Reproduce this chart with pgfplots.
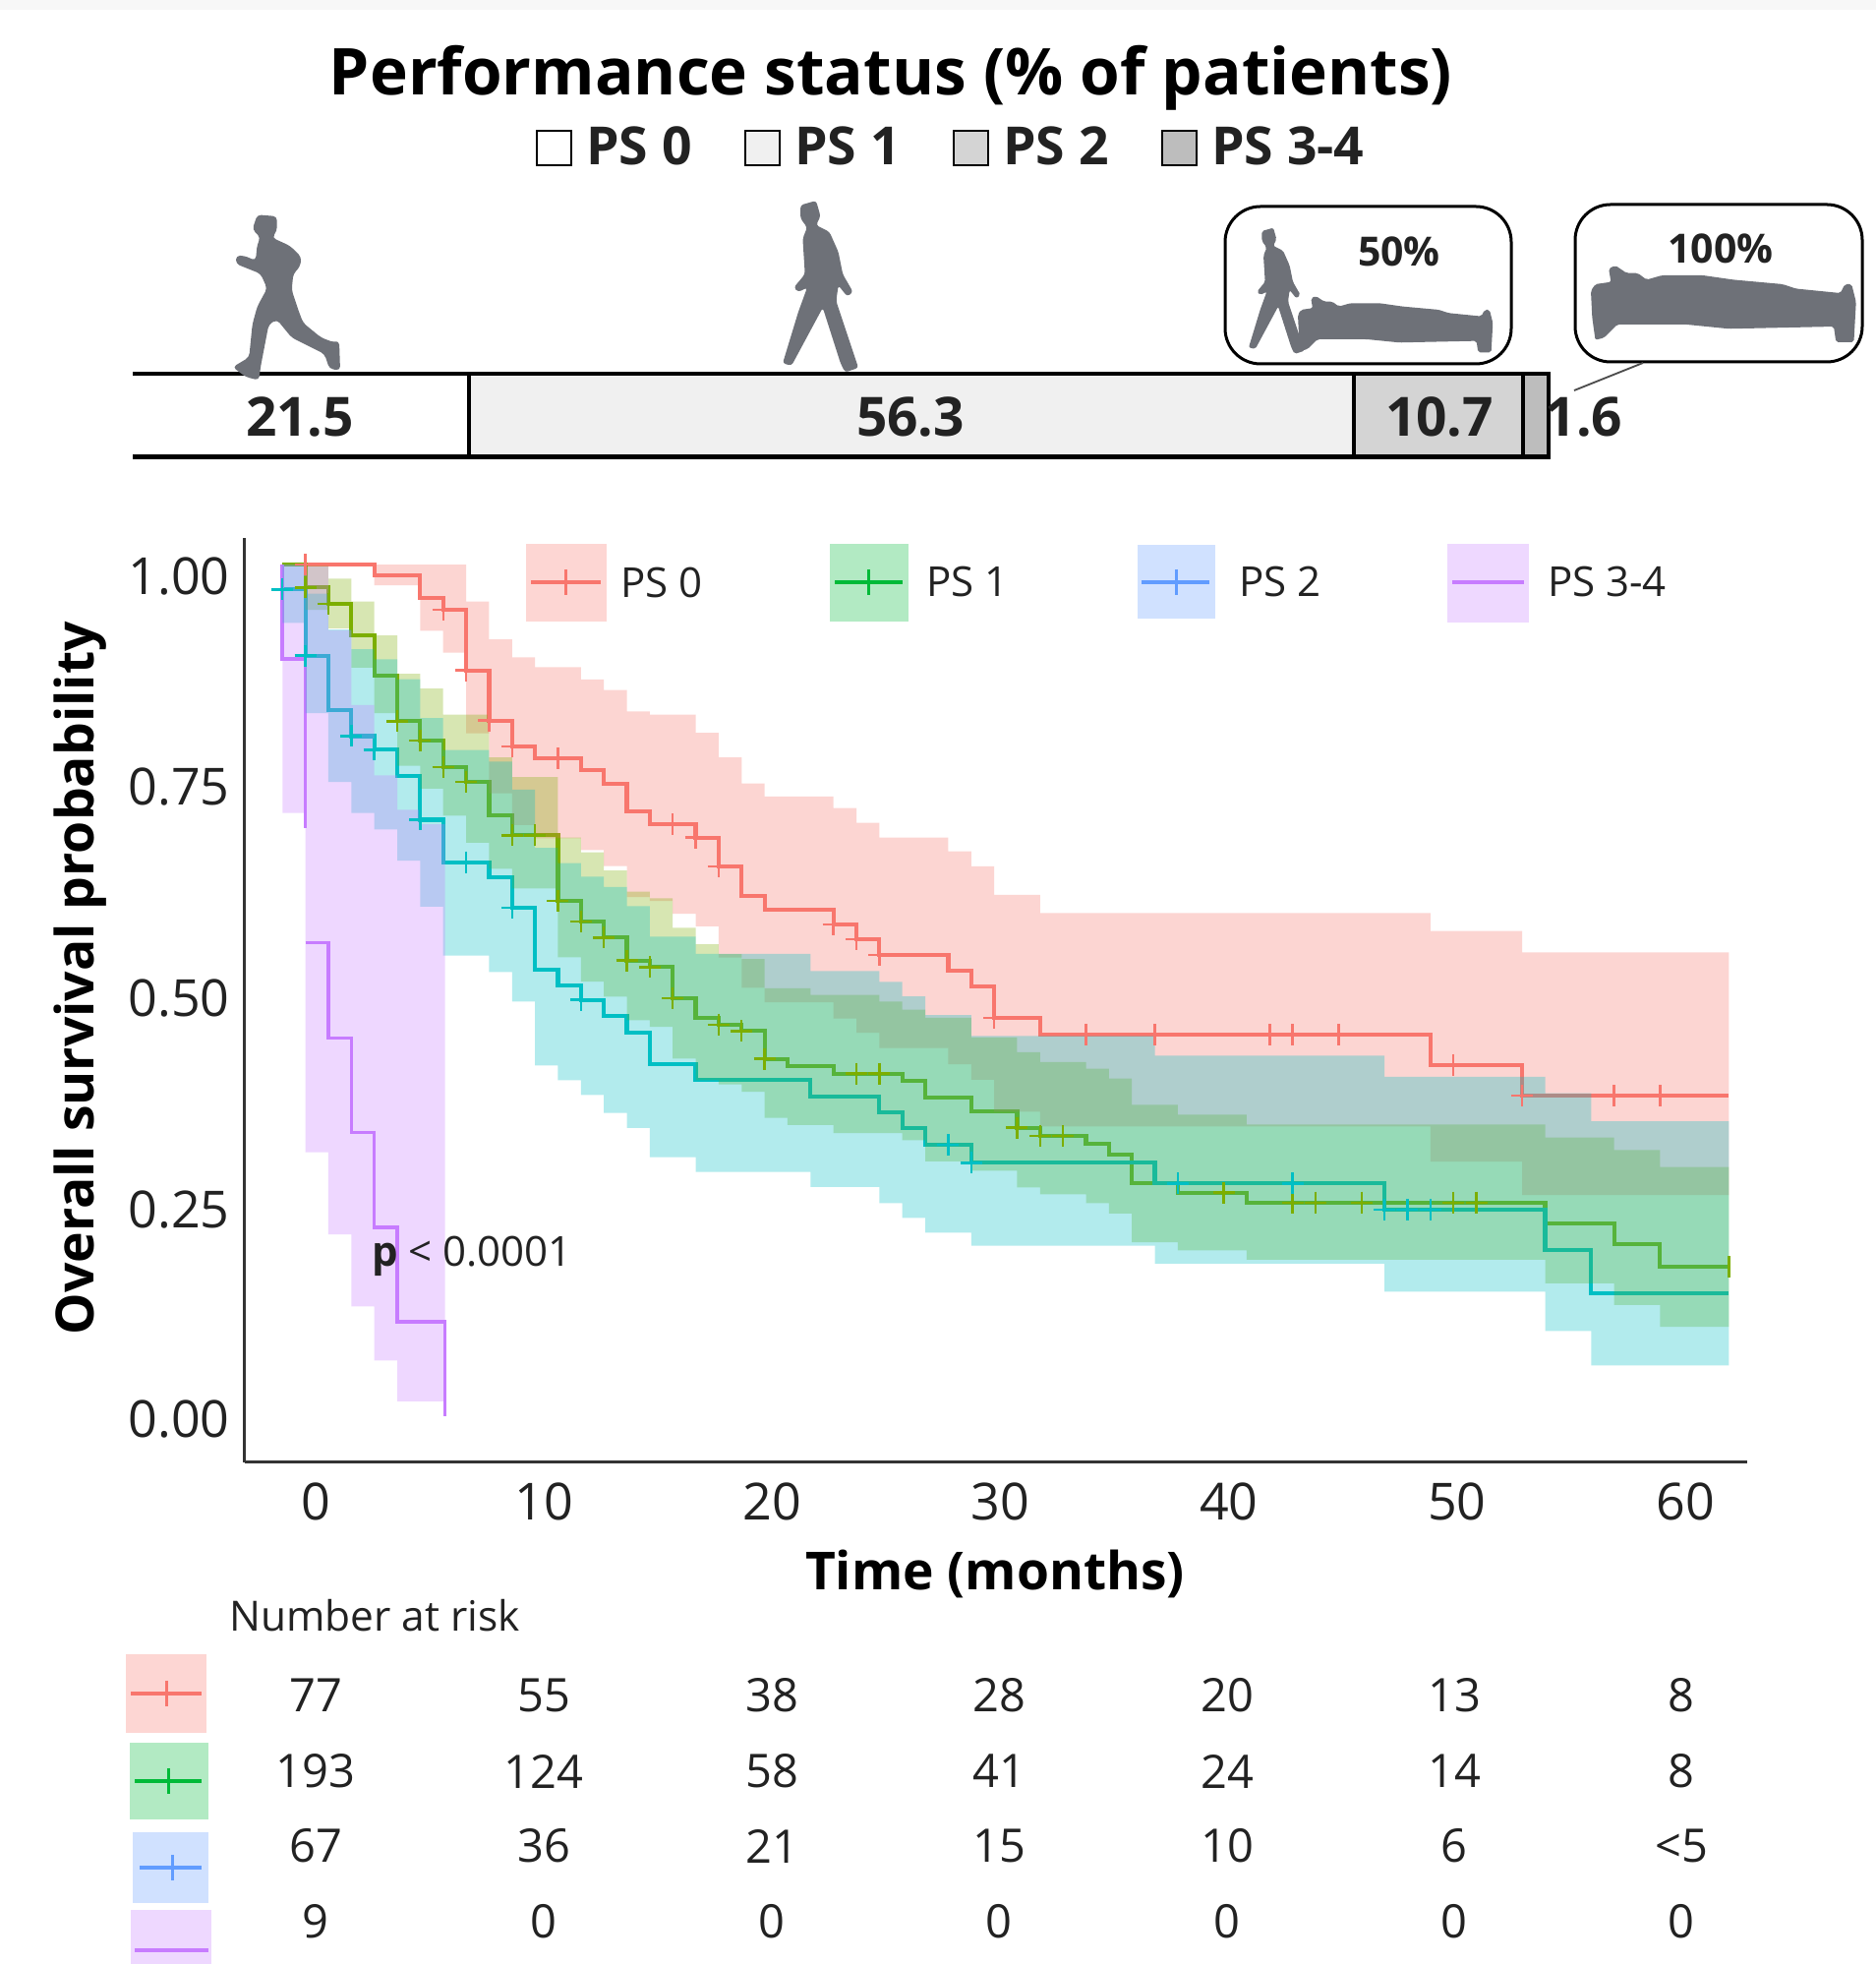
\documentclass[border=0pt]{standalone}
\usepackage{fontspec}
\setmainfont{Open Sans}
\usepackage{pgfplots}
\pgfplotsset{compat=1.18}
\definecolor{ggred}{HTML}{F8766D}
\definecolor{ggolive}{HTML}{7CAE00}
\definecolor{ggteal}{HTML}{00BFC4}
\definecolor{ggpurple}{HTML}{C77CFF}
\definecolor{keygreen}{HTML}{00BA38}
\definecolor{keyblue}{HTML}{619CFF}
\definecolor{sil}{HTML}{6E7178}
\definecolor{txt}{HTML}{222222}
\newcommand\fs[1]{\fontsize{#1}{#1}\selectfont}
\newcommand\walkerpath{(130,105)--(165,95)--(175,130)--(165,150)--(195,165)--(215,210)--(225,260)--(248,300)--(235,310)--(215,285)--(210,320)--(250,440)--(260,470)--(230,480)--(220,460)--(180,335)--(110,465)--(90,460)--(125,345)--(145,290)--(125,300)--(115,290)--(140,260)--(135,180)--(145,155)--(130,135)--cycle}
\newcommand\bedpath{(240,360)--(250,345)--(285,340)--(280,310)--(295,303)--(320,320)--(345,320)--(365,335)--(400,325)--(490,325)--(560,335)--(670,345)--(700,355)--(800,365)--(810,345)--(825,345)--(835,385)--(830,475)--(790,475)--(785,440)--(550,445)--(450,435)--(300,435)--(270,465)--(250,470)--(243,420)--cycle}
\begin{document}
\begin{tikzpicture}[x=1pt,y=1pt]
\useasboundingbox (0,0) rectangle (1908,1997);
\fill[white] (0,0) rectangle (1908,1997);
\fill[black!3] (0,1987) rectangle (1908,1997);

% ---- stacked performance-status bar ----
\begin{axis}[name=ps, at={(135pt,1533pt)}, anchor=south west, scale only axis,
  width=1441pt, height=84pt, hide axis, xbar stacked, bar width=84pt,
  xmin=0, xmax=90.1, ymin=0, ymax=1, clip=false]
\addplot[fill=white, draw=none] coordinates {(21.5,0.5)};
\addplot[fill=black!6, draw=none] coordinates {(56.3,0.5)};
\addplot[fill=black!17, draw=none] coordinates {(10.7,0.5)};
\addplot[fill=black!26, draw=none] coordinates {(1.6,0.5)};
\end{axis}

% ---- Kaplan-Meier panel ----
\begin{axis}[name=km, at={(248.5pt,510pt)}, anchor=south west, scale only axis,
  width=1528.5pt, height=940pt,
  xmin=-1.66, xmax=63.8, ymin=-0.0543, ymax=1.0312,
  axis lines=left, axis line style={-, line width=3pt, draw=black!80},
  major tick length=0pt, minor tick length=0pt,
  xtick={1.44,11.39,21.33,31.27,41.22,51.16,61.11},
  xticklabels={0,10,20,30,40,50,60},
  ytick={-0.003,0.243,0.491,0.739,0.986},
  yticklabels={0.00,0.25,0.50,0.75,1.00},
  tick label style={font=\fs{52}, text=txt},
  xticklabel style={anchor=center, yshift=-40pt},
  yticklabel style={anchor=east, xshift=-11.5pt},
  xlabel={\bfseries Time (months)},
  ylabel={\bfseries Overall survival probability},
  every axis x label/.style={at={(axis description cs:0.4995,-0.1205)}, anchor=center, font=\fs{53.3}, text=black},
  every axis y label/.style={at={(axis description cs:-0.1092,0.5235)}, anchor=center, rotate=90, font=\fs{53.5}, text=black},
]
% step lines
\addplot[const plot, ggred, line width=4.2pt] coordinates {(0,1)(4,.9873)(6,.9604)(7,.9469)(8,.8757)(9,.8168)(10,.7864)(11,.7725)(13,.7583)(14,.7421)(15,.7102)(16,.6948)(18,.6794)(19,.6455)(20,.6112)(21,.5947)(24,.5774)(25,.56)(26,.5419)(29,.5235)(30,.505)(31,.4677)(33,.4477)(50,.4126)(54,.3761)(63,.3761)};
\addplot[const plot, ggolive, line width=4.2pt] coordinates {(0,1)(1,.973)(2,.9538)(3,.9168)(4,.8699)(5,.816)(6,.7936)(7,.7621)(8,.7447)(9,.7051)(10,.682)(12,.605)(13,.5811)(14,.5619)(15,.535)(16,.5273)(17,.4907)(18,.4676)(19,.4599)(20,.4522)(21,.4195)(22,.411)(24,.4022)(27,.3933)(28,.3741)(30,.358)(32,.3387)(33,.3291)(35,.3195)(36,.3072)(37,.2733)(39,.2625)(42,.2509)(55,.226)(58,.2021)(60,.1752)(63,.1752)};
\addplot[const plot, ggteal, line width=4.2pt] coordinates {(0,1)(0,.9707)(1,.893)(2,.8294)(3,.7986)(4,.7825)(5,.7513)(6,.7004)(7,.6504)(9,.6331)(10,.5973)(11,.5242)(12,.5061)(13,.4888)(14,.4703)(15,.4503)(16,.4137)(18,.3945)(23,.3752)(26,.3571)(27,.3387)(28,.3186)(30,.2975)(38,.2733)(48,.2425)(55,.1955)(57,.1443)(63,.1443)};
\addplot[const plot, ggpurple, line width=3.6pt] coordinates {(0,1)(0,.889)(1,.69)};
\addplot[const plot, ggpurple, line width=3.6pt] coordinates {(1,.556)(2,.444)(3,.333)(4,.222)(5,.111)(7.08,0)};
% confidence ribbons
\addplot[const plot, draw=none, fill=ggred, fill opacity=.3] coordinates {(0,1)(8,.9565)(9,.9122)(10,.891)(11,.8795)(13,.8649)(14,.8525)(15,.8275)(16,.8237)(18,.8025)(19,.7736)(20,.7428)(21,.7275)(24,.714)(25,.6967)(26,.6794)(29,.6632)(30,.6455)(31,.612)(33,.5908)(50,.5697)(54,.5447)(63,.5447)
 (63,.2597)(54,.2988)(50,.3403)(33,.3574)(31,.3951)(30,.4132)(29,.4322)(26,.4501)(25,.4669)(24,.4861)(21,.503)(20,.5386)(19,.5752)(18,.59)(17,.605)(16,.6095)(15,.646)(14,.6648)(13,.6785)(11,.6941)(10,.7314)(9,.8017)(8,.8966)(7,.9223)(6,.9757)(4,1)(0,1)};
\addplot[const plot, draw=none, fill=ggolive, fill opacity=.3] coordinates {(0,1)(1,.9985)(2,.9834)(3,.9565)(4,.9168)(5,.8718)(6,.8545)(7,.8237)(9,.7736)(10,.7505)(12,.6793)(13,.662)(14,.6408)(15,.6158)(16,.6081)(17,.5735)(18,.5542)(19,.5427)(20,.5369)(21,.5023)(23,.4946)(26,.4869)(27,.4773)(28,.4677)(30,.4446)(32,.4273)(33,.4157)(35,.408)(36,.3964)(37,.3657)(39,.3541)(42,.3426)(55,.3272)(58,.3125)(60,.2925)(63,.2925)
 (63,.1049)(60,.1307)(58,.1561)(55,.1837)(42,.1946)(39,.2042)(37,.2381)(36,.2502)(35,.2605)(33,.2685)(32,.2883)(30,.2992)(28,.3241)(27,.3325)(24,.342)(22,.3504)(21,.3809)(20,.3897)(19,.3945)(18,.4199)(17,.4572)(16,.4648)(15,.4927)(14,.5101)(13,.5388)(12,.6197)(10,.6427)(9,.6733)(8,.7051)(7,.737)(6,.7638)(5,.8254)(4,.8788)(3,.925)(2,.9467)(1,1)(0,1)};
\addplot[const plot, draw=none, fill=ggteal, fill opacity=.3] coordinates {(0,1)(1,.9659)(2,.9237)(3,.9005)(4,.8888)(5,.8653)(6,.8198)(7,.7823)(9,.7687)(10,.7358)(11,.6673)(12,.6493)(13,.6336)(14,.6213)(15,.5988)(16,.563)(18,.5428)(23,.5227)(26,.5099)(27,.4928)(28,.471)(30,.4465)(38,.4234)(48,.3984)(55,.3791)(57,.3464)(63,.3464)
 (63,.0597)(57,.1001)(55,.1463)(48,.179)(38,.2001)(30,.2155)(28,.2328)(27,.2501)(26,.2693)(23,.2867)(18,.304)(16,.3386)(15,.356)(14,.3771)(13,.3945)(12,.4118)(11,.4869)(10,.5214)(9,.5407)(7,.5984)(6,.6523)(5,.6889)(4,.7082)(3,.7447)(2,.8256)(1,.9315)(0,.9315)};
\addplot[const plot, draw=none, fill=ggpurple, fill opacity=.3] coordinates {(0,1)(1,.9978)(2,.9229)(3,.835)(4,.7524)(5,.712)(6,.695)(7.08,.695)
 (7.08,.0173)(5,.0655)(4,.129)(3,.2136)(2,.3098)(1,.7082)(0,.7082)};
% censoring marks
\addplot[only marks, ggred, mark=+, mark size=11pt, mark options={line width=2.4pt}] coordinates {(1,1)(7,.9469)(8,.8757)(9,.8168)(10,.7864)(12,.7725)(17,.6948)(18,.6794)(19,.6455)(24,.5774)(25,.56)(26,.5419)(31,.4677)(35,.4477)(38,.4477)(43,.4477)(44,.4477)(46,.4477)(51,.4126)(54,.3761)(58,.3761)(60,.3761)};
\addplot[only marks, ggolive, mark=+, mark size=11pt, mark options={line width=2.4pt}] coordinates {(1,.973)(2,.9538)(5,.816)(6,.7936)(7,.7621)(8,.7447)(10,.682)(11,.682)(12,.605)(13,.5811)(14,.5619)(15,.535)(16,.5273)(17,.4907)(19,.4599)(20,.4522)(21,.4195)(25,.4022)(26,.4022)(32,.3387)(33,.3291)(34,.3291)(41,.2625)(44,.2509)(45,.2509)(47,.2509)(51,.2509)(52,.2509)};
\addplot[only marks, ggolive, mark=|, mark size=11pt, mark options={line width=2.4pt}] coordinates {(63,.1752)};
\addplot[only marks, ggteal, mark=+, mark size=11pt, mark options={line width=2.4pt}] coordinates {(0,.9707)(1,.893)(3,.7986)(4,.7825)(6,.7004)(8,.6504)(10,.5973)(13,.4888)(29,.3186)(30,.2975)(39,.2733)(44,.2733)(48,.2425)(49,.2425)(50,.2425)};
\end{axis}

% ---- everything below uses reference pixel coordinates ----
\begin{scope}[shift={(0pt,1997pt)},x=1pt,y=-1pt]
% frame of the stacked bar
\draw[black, line width=4.5pt] (135,380)--(1577,380);
\draw[black, line width=4.5pt] (135,464.5)--(1577,464.5);
\draw[black, line width=3.2pt] (477,380)--(477,464);
\draw[black, line width=3.2pt] (1377,380)--(1377,464);
\draw[black, line width=3.2pt] (1549,380)--(1549,464);
\draw[black, line width=3.2pt] (1575,380)--(1575,464);
\node[font=\fs{65.7}\bfseries, text=black] at (906,79) {Performance status (\% of patients)};
% top legend
\foreach \x/\c/\t in {546/white/PS 0, 758/black!6/PS 1, 970/black!17/PS 2, 1182/black!26/PS 3-4}{
  \filldraw[fill=\c, draw=black, line width=2.8pt] (\x,133) rectangle ++(35,35);
  \node[anchor=west, inner sep=0pt, font=\fs{53.5}\bfseries, text=txt] at (\x+50,148) {\t};
}
% silhouettes
\begin{scope}[shift={(220,200)},x=.3333pt,y=-.3333pt]
\fill[sil, rounded corners=4pt] (125,55)--(185,60)--(185,105)--(170,125)--(225,150)--(260,185)--(255,215)--(235,235)--(230,285)--(250,345)--(265,385)--(320,430)--(360,445)--(375,440)--(378,530)--(345,525)--(330,480)--(230,430)--(185,375)--(160,390)--(135,520)--(130,560)--(90,550)--(50,520)--(100,490)--(110,390)--(125,335)--(155,280)--(135,235)--(85,215)--(60,205)--(60,180)--(85,180)--(120,195)--(125,145)--(135,125)--(110,100)--cycle;
\end{scope}
\begin{scope}[shift={(755.2,161)},x=.4533pt,y=-.4533pt]
\fill[sil, rounded corners=3pt] \walkerpath;
\end{scope}
% boxes
\draw[black, line width=3pt, rounded corners=36pt, fill=white] (1246,210) rectangle (1537,370);
\draw[black, line width=3pt, rounded corners=36pt, fill=white] (1602,208) rectangle (1894,368);
\draw[black!70, line width=1.8pt] (1671,369)--(1601,397);
\begin{scope}[shift={(1240,200)},x=.3333pt,y=-.3333pt]
\fill[sil, rounded corners=2pt] \walkerpath;
\fill[sil, rounded corners=2pt] \bedpath;
\end{scope}
\begin{scope}[shift={(1509.2,132.6)},x=.4533pt,y=-.4533pt]
\fill[sil, rounded corners=2pt] \bedpath;
\end{scope}
\node[font=\fs{41}\bfseries, text=txt] at (1423,256) {50\%};
\node[font=\fs{41}\bfseries, text=txt] at (1750,253) {100\%};
% bar values
\foreach \x/\t in {305/21.5, 926/56.3, 1464/10.7, 1611/1.6}{
  \node[font=\fs{55}\bfseries, text=txt] at (\x,424) {\t};
}
% KM legend
\fill[ggred!30] (535,553) rectangle (617,632);
\fill[keygreen!30] (844,553) rectangle (924,632);
\fill[keyblue!30] (1157,554) rectangle (1236,629);
\fill[ggpurple!30] (1472,553) rectangle (1555,633);
\draw[ggred, line width=4.5pt] (540,592)--(611,592);
\draw[ggred, line width=3pt] (575,579)--(575,605);
\draw[keygreen, line width=4.5pt] (849,592)--(918,592);
\draw[keygreen, line width=3pt] (883,579)--(883,605);
\draw[keyblue, line width=4.5pt] (1161,592)--(1230,592);
\draw[keyblue, line width=3pt] (1196,579)--(1196,605);
\draw[ggpurple, line width=4.5pt] (1477,592)--(1550,592);
\foreach \x/\t in {631/PS 0, 942/PS 1, 1260/PS 2, 1574/PS 3-4}{
  \node[anchor=west, inner sep=0pt, font=\fs{42}, text=txt] at (\x,592) {\t};
}
% p value
\node[anchor=west, inner sep=0pt, font=\fs{42}, text=txt] at (378,1277) {{\bfseries p} < 0.0001};
% risk table
\node[anchor=west, inner sep=0pt, font=\fs{42.4}, text=txt] at (233,1643) {Number at risk};
\fill[ggred!30] (128,1682) rectangle (210,1762);
\draw[ggred, line width=4.5pt] (133,1722)--(205,1722);
\draw[ggred, line width=3pt] (169,1709)--(169,1735);
\fill[keygreen!30] (132,1772) rectangle (212,1850);
\draw[keygreen, line width=4.5pt] (137,1811)--(205,1811);
\draw[keygreen, line width=3pt] (171,1798)--(171,1824);
\fill[keyblue!30] (135,1863) rectangle (212,1935);
\draw[keyblue, line width=4.5pt] (142,1899)--(205,1899);
\draw[keyblue, line width=3pt] (175,1886)--(175,1912);
\fill[ggpurple!30] (133,1942) rectangle (215,1997);
\draw[ggpurple, line width=4.5pt] (137,1983)--(212,1983);
\foreach \x/\t in {321/77, 553/55, 785/38, 1016/28, 1248/20, 1479/13, 1710/8}{\node[font=\fs{47}, text=txt] at (\x,1724) {\t};}
\foreach \x/\t in {321/193, 553/124, 785/58, 1016/41, 1248/24, 1479/14, 1710/8}{\node[font=\fs{47}, text=txt] at (\x,1801) {\t};}
\foreach \x/\t in {321/67, 553/36, 785/21, 1016/15, 1248/10, 1479/6, 1710/<5}{\node[font=\fs{47}, text=txt] at (\x,1877) {\t};}
\foreach \x/\t in {321/9, 553/0, 785/0, 1016/0, 1248/0, 1479/0, 1710/0}{\node[font=\fs{47}, text=txt] at (\x,1954) {\t};}
\end{scope}
\end{tikzpicture}
\end{document}
